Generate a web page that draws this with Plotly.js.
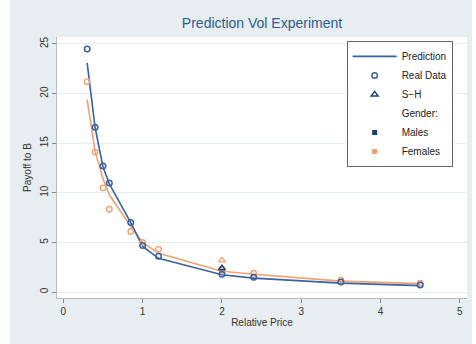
<!DOCTYPE html>
<html>
<head>
<meta charset="utf-8">
<script src="https://cdn.plot.ly/plotly-3.0.1.min.js"></script>
<style>
  html, body { margin: 0; padding: 0; background: #ffffff; }
  #chart { position: absolute; left: 10px; top: 0px; width: 462px; height: 344px; }
</style>
</head>
<body>
<div id="chart"></div>
<script>
// Relative price levels
const price = [0.3, 0.4, 0.5, 0.58, 0.85, 1.0, 1.2, 2.0, 2.4, 3.5, 4.5];
// Prediction lines
const predMales = [23.1, 16.6, 12.6, 10.9, 7.0, 4.6, 3.4, 1.75, 1.4, 0.9, 0.65];
const predFemales = [19.4, 14.2, 11.4, 9.8, 6.6, 5.0, 3.9, 2.1, 1.8, 1.1, 0.85];
// Real data
const realMales = [24.5, 16.6, 12.7, 11.0, 7.0, 4.7, 3.6, 1.8, 1.5, 1.0, 0.7];
const realFemales = [21.2, 14.1, 10.5, 8.35, 6.1, 5.0, 4.3, 2.2, 1.9, 1.2, 0.88];
// S-H observations
const shPrice = [2.0];
const shMales = [2.4];
const shFemales = [3.2];

const blue = '#3563a3';
const navy = '#1b3f73';
const orange = '#f2a072';

const traces = [
  {x: price, y: predFemales, type: 'scatter', mode: 'lines', line: {color: orange, width: 1.6}, showlegend: false, hoverinfo: 'skip'},
  {x: price, y: predMales, type: 'scatter', mode: 'lines', line: {color: blue, width: 1.6}, name: 'Prediction'},
  {x: price, y: realFemales, type: 'scatter', mode: 'markers', marker: {symbol: 'circle-open', color: orange, size: 5.5, line: {width: 1.4, color: orange}}, showlegend: false},
  {x: price, y: realMales, type: 'scatter', mode: 'markers', marker: {symbol: 'circle-open', color: blue, size: 5.5, line: {width: 1.5, color: blue}}, name: 'Real Data'},
  {x: shPrice, y: shFemales, type: 'scatter', mode: 'markers', marker: {symbol: 'triangle-up-open', color: orange, size: 6, line: {width: 1.3, color: orange}}, showlegend: false},
  {x: shPrice, y: shMales, type: 'scatter', mode: 'markers', marker: {symbol: 'triangle-up-open', color: navy, size: 6, line: {width: 1.5, color: navy}}, name: 'S\u2212H'},
  {x: [null], y: [null], type: 'scatter', mode: 'markers', marker: {symbol: 'square', color: 'rgba(0,0,0,0)', size: 5}, name: 'Gender:'},
  {x: [null], y: [null], type: 'scatter', mode: 'markers', marker: {symbol: 'square', color: navy, size: 5}, name: 'Males'},
  {x: [null], y: [null], type: 'scatter', mode: 'markers', marker: {symbol: 'square', color: orange, size: 5}, name: 'Females'}
];

const layout = {
  width: 462,
  height: 344,
  margin: {l: 47, r: 5, t: 37, b: 46, pad: 0},
  paper_bgcolor: '#e7edf0',
  plot_bgcolor: '#ffffff',
  font: {family: 'Liberation Sans, Arial, sans-serif', size: 10, color: '#333333'},
  title: {text: 'Prediction Vol Experiment', font: {size: 14, color: '#2b5d92'}, x: 0.5, xanchor: 'center', xref: 'paper', y: 1 - 23 / 344, yref: 'container', yanchor: 'middle', pad: {t: 0}},
  xaxis: {
    range: [-0.08, 5.09],
    tickvals: [0, 1, 2, 3, 4, 5],
    ticks: 'outside', ticklen: 4, tickcolor: '#888888',
    showgrid: false, zeroline: false,
    showline: true, linecolor: '#b4bcc2', linewidth: 1,
    title: {text: 'Relative Price', font: {size: 10, color: '#333333'}, standoff: 2},
    tickfont: {size: 10, color: '#333333'}
  },
  yaxis: {
    range: [-0.6, 25.7],
    tickvals: [0, 5, 10, 15, 20, 25],
    tickangle: -90,
    ticks: 'outside', ticklen: 4, tickcolor: '#888888',
    showgrid: true, gridcolor: '#e6eef1', gridwidth: 1,
    zeroline: false,
    showline: true, linecolor: '#b4bcc2', linewidth: 1,
    title: {text: 'Payoff to B', font: {size: 10, color: '#333333'}, standoff: 5},
    tickfont: {size: 10, color: '#333333'}
  },
  legend: {
    x: 0.965, y: 0.985, xanchor: 'right', yanchor: 'top',
    bgcolor: '#ffffff', bordercolor: '#666666', borderwidth: 1,
    font: {size: 10, color: '#222222'},
    itemwidth: 44,
    tracegroupgap: 0
  }
};

Plotly.newPlot('chart', traces, layout, {displayModeBar: false, staticPlot: true});
</script>
</body>
</html>
